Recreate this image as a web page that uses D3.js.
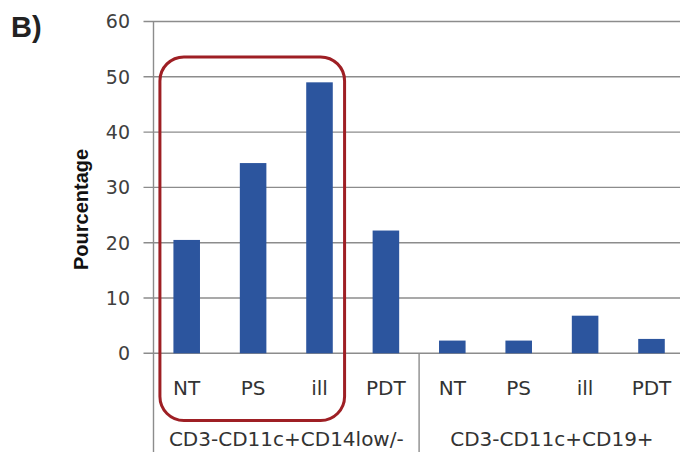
<!DOCTYPE html>
<html>
<head>
<meta charset="utf-8">
<script src="https://cdn.jsdelivr.net/npm/d3@7"></script>
<style>
  html, body { margin: 0; padding: 0; background: #fff; }
  svg { display: block; }
</style>
</head>
<body>
<svg id="chart" width="680" height="452"></svg>
<script>
// ---- data ----
const groups = ["CD3-CD11c+CD14low/-", "CD3-CD11c+CD19+"];
const conditions = ["NT", "PS", "ill", "PDT"];
const cd14Values = [20.5, 34.4, 49.0, 22.2];
const cd19Values = [2.3, 2.3, 6.8, 2.6];
const yTicks = [0, 10, 20, 30, 40, 50, 60];
const yTitle = "Pourcentage";
const panelLabel = "B)";

(function () {
  // ---- build rows ----
  const seriesByGroup = [cd14Values, cd19Values];
  const rows = [];
  groups.forEach((g, gi) => {
    conditions.forEach((c, ci) => {
      rows.push({ key: gi + "-" + c, group: g, gi, cond: c, value: seriesByGroup[gi][ci] });
    });
  });

  const svg = d3.select("#chart");
  const pLeft = 153.5, pRight = 684.7, pTop = 21.5, pBottom = 353.3;

  const x = d3.scaleBand()
    .domain(rows.map(d => d.key))
    .range([pLeft, pRight])
    .paddingInner(0.6)
    .paddingOuter(0.3);

  const y = d3.scaleLinear().domain([0, 60]).range([pBottom, pTop]);

  const gridColor = "#8c8c8c";
  const step = x.step();

  // gridlines + tick marks
  svg.append("g").selectAll("line")
    .data(yTicks)
    .join("line")
    .attr("x1", pLeft - 10)
    .attr("x2", 680)
    .attr("y1", d => y(d))
    .attr("y2", d => y(d))
    .attr("stroke", gridColor)
    .attr("stroke-width", 1.4);

  // y tick labels
  svg.append("g").selectAll("text")
    .data(yTicks)
    .join("text")
    .attr("x", 130)
    .attr("y", d => y(d))
    .attr("dy", "0.36em")
    .attr("text-anchor", "end")
    .attr("font-family", "DejaVu Sans")
    .attr("font-size", 19)
    .attr("fill", "#404040")
    .text(d => d);

  // y axis line (extends down through category label area)
  svg.append("line")
    .attr("x1", pLeft).attr("x2", pLeft)
    .attr("y1", y(60)).attr("y2", 452)
    .attr("stroke", gridColor).attr("stroke-width", 1.4);

  // group separator lines
  groups.forEach((g, gi) => {
    if (gi === 0) return;
    const sepX = x(gi + "-" + conditions[0]) + x.bandwidth() / 2 - step / 2;
    svg.append("line")
      .attr("x1", sepX).attr("x2", sepX)
      .attr("y1", pBottom).attr("y2", 452)
      .attr("stroke", gridColor).attr("stroke-width", 1.4);
  });

  // bars
  svg.append("g").selectAll("rect")
    .data(rows)
    .join("rect")
    .attr("x", d => x(d.key))
    .attr("width", x.bandwidth())
    .attr("y", d => y(d.value))
    .attr("height", d => y(0) - y(d.value))
    .attr("fill", "#2c559e");

  // category labels
  svg.append("g").selectAll("text")
    .data(rows)
    .join("text")
    .attr("x", d => x(d.key) + x.bandwidth() / 2)
    .attr("y", 395)
    .attr("text-anchor", "middle")
    .attr("font-family", "DejaVu Sans")
    .attr("font-size", 20)
    .attr("fill", "#333")
    .text(d => d.cond);

  // group labels
  svg.append("g").selectAll("text")
    .data(groups)
    .join("text")
    .attr("x", (g, gi) => {
      const a = x(gi + "-" + conditions[0]) + x.bandwidth() / 2 - step / 2;
      const b = x(gi + "-" + conditions[conditions.length - 1]) + x.bandwidth() / 2 + step / 2;
      return (a + b) / 2;
    })
    .attr("y", 446)
    .attr("text-anchor", "middle")
    .attr("font-family", "DejaVu Sans")
    .attr("font-size", 20)
    .attr("fill", "#333")
    .text(g => g);

  // y title
  svg.append("text")
    .attr("transform", "translate(88," + ((y(0) + y(60)) / 2 + 22) + ") rotate(-90)")
    .attr("text-anchor", "middle")
    .attr("font-family", "Liberation Sans")
    .attr("font-weight", "bold")
    .attr("font-size", 20)
    .attr("fill", "#111")
    .text(yTitle);

  // panel label
  svg.append("text")
    .attr("x", 11)
    .attr("y", 37)
    .attr("font-family", "Liberation Sans")
    .attr("font-weight", "bold")
    .attr("font-size", 29)
    .attr("fill", "#222")
    .text(panelLabel);

  // highlight rounded rectangle around first three bars of group 1
  const hx0 = x("0-NT") - 13.5;
  const hx1 = x("0-ill") + x.bandwidth() + 11.8;
  const hy0 = y(53.6);
  const hy1 = 420.5;
  svg.append("rect")
    .attr("x", hx0).attr("y", hy0)
    .attr("width", hx1 - hx0).attr("height", hy1 - hy0)
    .attr("rx", 24).attr("ry", 24)
    .attr("fill", "none")
    .attr("stroke", "#9e1f24")
    .attr("stroke-width", 3);
})();
</script>
</body>
</html>
